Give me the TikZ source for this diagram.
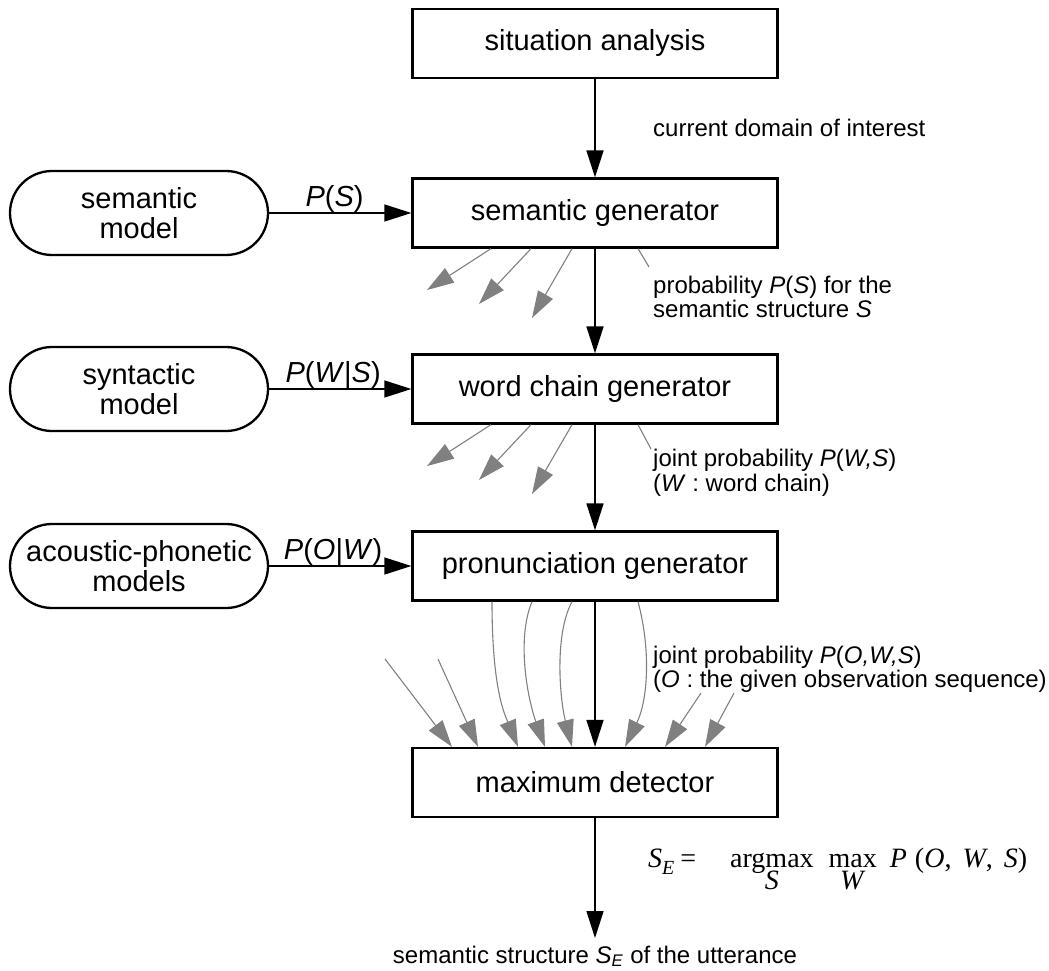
\documentclass[tikz,border=0pt]{standalone}
\usepackage{fontspec}
\setmainfont{Liberation Sans}
\newfontfamily\timesfont{Liberation Serif}
\usetikzlibrary{arrows.meta}
\definecolor{ptgray}{RGB}{128,128,128}
% operator with its limit set centred beneath it
\newcommand\stackop[2]{\vtop{\lineskiplimit=-1000pt\baselineskip=22pt\halign{\hfil##\hfil\cr#1\cr#2\cr}}}

\begin{document}
\begin{tikzpicture}[x=1pt,y=-1pt,
  box/.style={draw, line width=2.3pt, minimum width=365pt, minimum height=69pt,
    inner sep=0pt, font=\fontsize{29}{30}\selectfont},
  model/.style={draw, line width=2.3pt, rounded corners=42pt, minimum width=258pt,
    minimum height=84pt, inner sep=0pt, align=center, font=\fontsize{29}{30}\selectfont},
  tip/.tip={Triangle[length=27pt,width=17pt]},
  flow/.style={line width=1.6pt, -tip},
  feed/.style={line width=1.3pt, -tip},
  alt/.style={ptgray, line width=1.1pt, -tip},
  lead/.style={ptgray, line width=1.1pt},
  note/.style={font=\fontsize{24}{25}\selectfont, inner sep=0pt, anchor=base west},
  plab/.style={font=\fontsize{29}{30}\selectfont, inner sep=0pt, above}
]
\useasboundingbox (0,0) rectangle (1049,971);

% main chain
\node[box] (sa)  at (595,43.5) {situation analysis};
\node[box] (sg)  at (595,213)  {semantic generator};
\node[box] (wcg) at (595,389)  {word chain generator};
\node[box] (pg)  at (595,566)  {pronunciation generator};
\node[box] (md)  at (595,782.5) {maximum detector};

% knowledge sources
\node[model] (sm)  at (139,213) {semantic\\model};
\node[model] (sym) at (139,389) {syntactic\\model};
\node[model] (apm) at (139,566) {acoustic-phonetic\\models};

\draw[flow] (sa) -- (sg);
\draw[flow] (sg) -- (wcg);
\draw[flow] (wcg) -- (pg);
\draw[flow] (pg) -- (md);
\coordinate (out) at (595,938);
\draw[flow] (md) -- (out);

\draw[feed] (sm) -- (sg) node[plab, pos=0.46] (lps) {\textit{P}(\textit{S})};
\draw[feed] (sym) -- (wcg) node[plab, pos=0.45] (lpws) {\textit{P}(\textit{W}|\textit{S})};
\draw[feed] (apm) -- (pg) node[plab, pos=0.45] (lpow) {\textit{P}(\textit{O}|\textit{W})};

% alternative hypotheses leaving the semantic generator
\coordinate (sgA) at (427,290);
\coordinate (sgB) at (479,304);
\coordinate (sgC) at (532,318);
\coordinate (sgL) at (649,267);
\draw[alt] ([xshift=-104pt]sg.south) -- (sgA);
\draw[alt] ([xshift=-64pt]sg.south) -- (sgB);
\draw[alt] ([xshift=-23pt]sg.south) -- (sgC);
\draw[lead] ([xshift=43pt]sg.south) -- (sgL);

% alternative hypotheses leaving the word chain generator
\coordinate (wcA) at (427,466);
\coordinate (wcB) at (479,480);
\coordinate (wcC) at (532,494);
\coordinate (wcL) at (651,449);
\draw[alt] ([xshift=-104pt]wcg.south) -- (wcA);
\draw[alt] ([xshift=-64pt]wcg.south) -- (wcB);
\draw[alt] ([xshift=-23pt]wcg.south) -- (wcC);
\draw[lead] ([xshift=43pt]wcg.south) -- (wcL);

% hypotheses entering the maximum detector
\coordinate (inA) at (385,659);
\coordinate (inB) at (438,659);
\coordinate (inC) at (701,693);
\coordinate (inD) at (734,693);
\draw[alt] (inA) -- ([xshift=-143pt]md.north);
\draw[alt] (inB) -- ([xshift=-117pt]md.north);
\draw[alt] ([xshift=-103pt]pg.south) .. controls (492,690) and (505,715) .. ([xshift=-77pt]md.north);
\draw[alt] ([xshift=-63pt]pg.south) .. controls (516,640) and (528,700) .. ([xshift=-50pt]md.north);
\draw[alt] ([xshift=-23pt]pg.south) .. controls (554,635) and (560,700) .. ([xshift=-23pt]md.north);
\draw[alt] ([xshift=43pt]pg.south) .. controls (651,650) and (648,700) .. ([xshift=30pt]md.north);
\draw[alt] (inC) -- ([xshift=70pt]md.north);
\draw[alt] (inD) -- ([xshift=110pt]md.north);

% annotations
\node[note] (cdi) at (653,136) {current domain of interest};
\node[note] (ps1) at (653,293) {probability \textit{P}(\textit{S}) for the};
\node[note] (ps2) at (653,317) {semantic structure \textit{S}};
\node[note] (pw1) at (653,466) {joint probability \textit{P}(\textit{W,S})};
\node[note] (pw2) at (653,491) {(\textit{W} : word chain)};
\node[note] (po1) at (653,663) {joint probability \textit{P}(\textit{O,W,S})};
\node[note] (po2) at (653,687) {(\textit{O} : the given observation sequence)};

\node[inner sep=0pt, anchor=base west, font=\timesfont\fontsize{28}{30}\selectfont] (se) at (648,867)
  {\textit{S}\raisebox{-7pt}{\fontsize{20}{20}\selectfont\textit{E}}\hspace{6pt}=\hspace{34pt}\stackop{argmax}{\textit{S}}\hspace{15pt}\stackop{max}{\textit{W}}\hspace{13pt}\textit{P}\hspace{8pt}(\textit{O},\hspace{11pt}\textit{W},\hspace{11pt}\textit{S})};

\node[note, anchor=base] (res) at (595,963) {semantic structure \textit{S}\textsubscript{\textit{E}} of the utterance};
\end{tikzpicture}
\end{document}
